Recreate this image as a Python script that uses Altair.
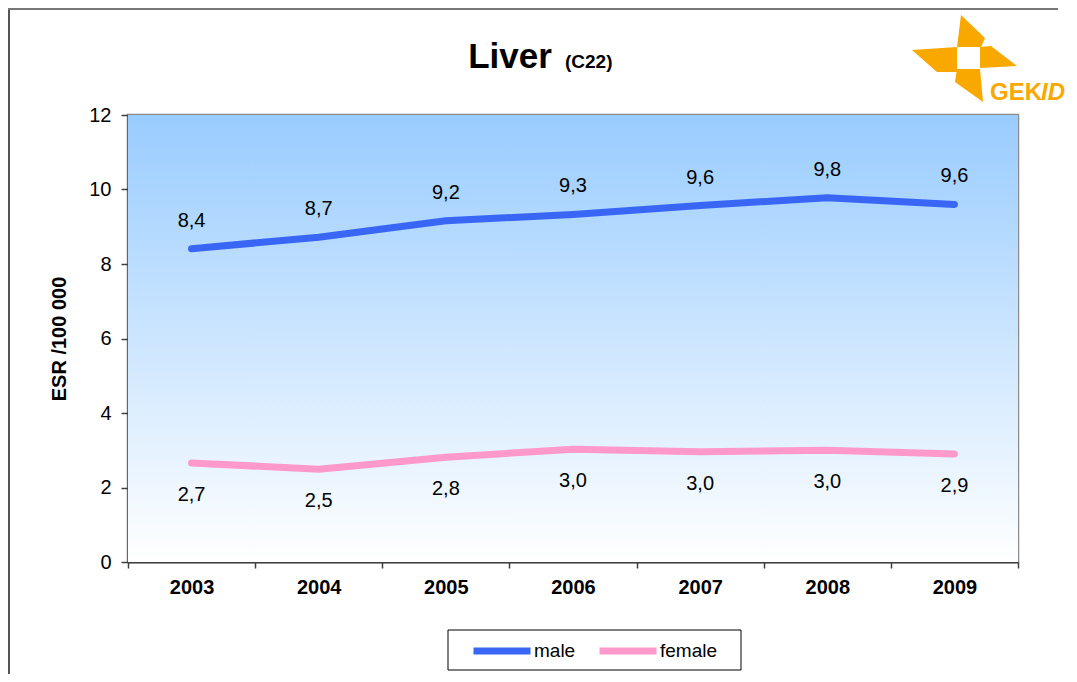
import altair as alt
import pandas as pd

years = ["2003", "2004", "2005", "2006", "2007", "2008", "2009"]
male = [8.41, 8.72, 9.16, 9.33, 9.57, 9.78, 9.60]
female = [2.66, 2.49, 2.81, 3.03, 2.96, 3.00, 2.90]
series = ["male", "female"]
colors = ["#3A66F5", "#FF99CC"]
y_ticks = [0, 2, 4, 6, 8, 10, 12]

rows = []
for s, vals in zip(series, [male, female]):
    for yr, v in zip(years, vals):
        rows.append({"year": yr, "value": v, "sex": s})
df = pd.DataFrame(rows)

FONT = "Liberation Sans"
W, H = 890, 447
ORANGE = "#F9A800"
FS = 20

base = alt.Chart(df)
xenc = alt.X("year:N", sort=years, scale=alt.Scale(type="band", paddingInner=0, paddingOuter=0),
             axis=alt.Axis(title=None, labelAngle=0, labelFontWeight="bold", labelFontSize=FS,
                           labelColor="#000", tickBand="extent", tickSize=6, tickColor="#404040",
                           tickWidth=1.5, domainColor="#404040", domainWidth=2, labelPadding=9,
                           grid=False))
yenc = alt.Y("value:Q", scale=alt.Scale(domain=[0, 12], nice=False),
             axis=alt.Axis(title="ESR /100 000", values=y_ticks, titleFontSize=FS,
                           titleFontWeight="bold", titleColor="#000", labelFontSize=FS,
                           labelColor="#000", tickSize=7, tickColor="#404040", tickWidth=1.5,
                           domainColor="#404040", domainWidth=2, labelPadding=10,
                           titlePadding=19, grid=True, gridColor="#A0A0A0", gridDash=[2, 2],
                           gridWidth=1))

deco = alt.Chart(alt.Data(values=[{"a": 1}]))

bg = deco.mark_rect(
    fill=alt.LinearGradient(gradient="linear", x1=0, x2=0, y1=0, y2=1,
                            stops=[alt.GradientStop(color="#99CCFF", offset=0),
                                   alt.GradientStop(color="#FFFFFF", offset=1)])
).encode(x=alt.value(0), x2=alt.value(W), y=alt.value(0), y2=alt.value(H))

lines = base.mark_line(strokeWidth=7, strokeCap="round", strokeJoin="round").encode(
    x=xenc, y=yenc,
    color=alt.Color("sex:N", scale=alt.Scale(domain=series, range=colors),
                    legend=alt.Legend(title=None, orient="none", legendX=342, legendY=504,
                                      direction="horizontal", symbolType="stroke",
                                      symbolStrokeWidth=7, symbolSize=3249, labelFontSize=19,
                                      labelColor="#000", labelOffset=0, columnPadding=9,
                                      padding=0)),
    detail="sex:N",
)

lab_expr = "replace(format(datum.value, '.1f'), '.', ',')"
lab_m = base.transform_filter("datum.sex == 'male'").transform_calculate(lab=lab_expr).mark_text(
    dy=-28, fontSize=FS, color="#000").encode(x=alt.X("year:N", sort=years), y="value:Q", text="lab:N")
lab_f = base.transform_filter("datum.sex == 'female'").transform_calculate(lab=lab_expr).mark_text(
    dy=32, fontSize=FS, color="#000").encode(x=alt.X("year:N", sort=years), y="value:Q", text="lab:N")

legbox = deco.mark_rect(fill="white", stroke="#000", strokeWidth=1).encode(
    x=alt.value(320), x2=alt.value(613), y=alt.value(515), y2=alt.value(555))

t1 = deco.mark_text(text="Liver", fontSize=35, fontWeight="bold", align="center",
                    baseline="alphabetic", color="#000").encode(x=alt.value(382), y=alt.value(-47))
t2 = deco.mark_text(text="(C22)", fontSize=19, fontWeight="bold", align="left",
                    baseline="alphabetic", color="#000").encode(x=alt.value(437), y=alt.value(-47))

pin = ("M-7,-43L17,-20L13,-11L-11,-11Z M12,-11L23,-12L49,8L12,10Z "
       "M12,11L15,44L-13,24L-11,11Z M-56,-8L-11,-11L-11,14L-31,14Z")
logo = deco.mark_point(shape=pin, filled=True, fill=ORANGE, stroke=None, size=4, opacity=1).encode(
    x=alt.value(840), y=alt.value(-57))
g1 = deco.mark_text(text="GEK", fontSize=24, fontWeight="bold", align="left", baseline="alphabetic",
                    color=ORANGE).encode(x=alt.value(862), y=alt.value(-15))
g2 = deco.mark_text(text="ID", fontSize=24, fontStyle="italic", fontWeight="bold", align="left",
                    baseline="alphabetic", color=ORANGE).encode(x=alt.value(913), y=alt.value(-15))

fr1 = deco.mark_rule(color="#555", strokeWidth=2).encode(
    x=alt.value(-119), y=alt.value(-107), y2=alt.value(570))
fr2 = deco.mark_rule(color="#777", strokeWidth=2).encode(
    x=alt.value(-120), x2=alt.value(930), y=alt.value(-106))

chart = alt.layer(bg, lines, lab_m, lab_f, legbox, t1, t2, logo, g1, g2, fr1, fr2).properties(
    width=W, height=H,
    autosize=alt.AutoSizeParams(type="none"),
    padding={"left": 120, "top": 107, "right": 51, "bottom": 112},
).configure(font=FONT).configure_view(stroke="#8C8C8C", strokeWidth=2.5)

chart.save("out.html", embed_options={"renderer": "svg", "actions": False})
